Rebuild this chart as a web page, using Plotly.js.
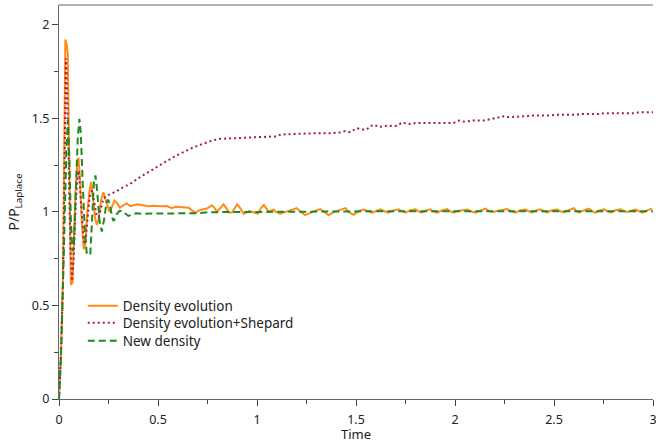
<!DOCTYPE html>
<html>
<head>
<meta charset="utf-8">
<script src="https://cdn.plot.ly/plotly-3.0.1.min.js"></script>
<style>
html,body{margin:0;padding:0;background:#fff;}
#chart{width:656px;height:443px;}
</style>
</head>
<body>
<div id="chart"></div>
<script>
// Density evolution (orange, solid)
const tDens = [0,0.01,0.02,0.026,0.032,0.038,0.044,0.05,0.055,0.06,0.068,0.075,0.083,0.092,0.098,0.105,0.115,0.125,0.132,0.143,0.155,0.163,0.172,0.183,0.192,0.2,0.212,0.224,0.24,0.255,0.265,0.28,0.295,0.308,0.325,0.342,0.36,0.38,0.395,0.425,0.45,0.48,0.51,0.545,0.57,0.59,0.612,0.635,0.655,0.675,0.69,0.713,0.73,0.748,0.772,0.786,0.798,0.815,0.831,0.845,0.858,0.875,0.9,0.915,0.932,0.962,0.985,1.005,1.02,1.035,1.058,1.083,1.095,1.117,1.16,1.2,1.22,1.243,1.28,1.32,1.345,1.362,1.385,1.404,1.425,1.446,1.468,1.488,1.515,1.539,1.56,1.581,1.603,1.623,1.645,1.665,1.69,1.715,1.73,1.749,1.775,1.8,1.815,1.834,1.855,1.876,1.89,1.909,1.935,1.96,1.975,1.994,2.015,2.036,2.061,2.08,2.103,2.13,2.154,2.175,2.196,2.213,2.23,2.263,2.285,2.305,2.33,2.356,2.372,2.39,2.41,2.432,2.45,2.466,2.49,2.516,2.533,2.55,2.575,2.601,2.614,2.626,2.65,2.676,2.693,2.71,2.73,2.752,2.77,2.786,2.81,2.836,2.853,2.87,2.89,2.912,2.93,2.946,2.97,2.996];
const vDens = [0,0.25,0.65,1.3,1.92,1.9,1.85,1.4,0.9,0.61,0.62,0.85,1.1,1.25,1.29,1.2,0.95,0.8,0.82,1.0,1.12,1.16,1.08,0.96,0.93,0.96,1.06,1.105,1.05,1.0,1.02,1.06,1.045,1.022,1.035,1.045,1.03,1.035,1.04,1.035,1.03,1.033,1.03,1.031,1.02,1.027,1.026,1.024,1.022,1.005,0.996,1.01,1.015,1.018,1.035,1.02,1.0,1.02,1.04,1.02,0.996,0.998,1.04,1.02,0.99,1.004,0.995,0.99,1.02,1.036,1.002,1.012,1.0,0.99,1.005,1.02,1.0,0.982,1.0,1.015,0.995,0.982,0.997,1.004,1.015,1.02,0.995,0.984,1.005,1.012,1.003,0.995,1.005,1.013,1.003,0.996,1.008,1.014,1.004,0.996,1.008,1.013,1.003,0.996,1.008,1.013,1.003,0.996,1.008,1.015,1.003,0.996,1.005,1.008,1.012,1.003,0.996,1.008,1.017,1.003,0.999,1.005,1.008,1.015,1.003,0.996,1.008,1.012,1.003,0.997,1.008,1.013,1.003,0.997,1.008,1.012,1.003,0.997,1.01,1.02,1.003,0.996,1.008,1.017,1.003,0.996,1.008,1.013,1.003,0.997,1.008,1.013,1.003,0.999,1.006,1.012,1.003,0.996,1.008,1.017];

// Density evolution + Shepard (purple, dotted)
const tShep = [0,0.01,0.02,0.027,0.035,0.042,0.05,0.058,0.066,0.074,0.085,0.093,0.1,0.108,0.118,0.126,0.133,0.143,0.155,0.167,0.178,0.19,0.2,0.212,0.224,0.24,0.266,0.29,0.325,0.36,0.41,0.45,0.494,0.535,0.578,0.62,0.662,0.705,0.747,0.78,0.814,0.86,0.915,0.96,1.008,1.05,1.1,1.12,1.2,1.303,1.37,1.42,1.446,1.47,1.505,1.53,1.555,1.572,1.593,1.615,1.64,1.665,1.69,1.71,1.732,1.76,1.778,1.8,1.876,1.926,1.993,2.019,2.044,2.095,2.145,2.187,2.213,2.238,2.263,2.364,2.38,2.482,2.507,2.608,2.634,2.726,2.752,2.904,2.929,3.0];
const vShep = [0,0.24,0.62,1.2,1.82,1.6,1.2,0.8,0.63,0.75,1.05,1.18,1.22,1.12,0.95,0.84,0.83,0.95,1.08,1.115,1.05,0.98,0.972,1.03,1.07,1.085,1.097,1.11,1.132,1.15,1.186,1.21,1.239,1.265,1.292,1.315,1.337,1.355,1.372,1.383,1.39,1.393,1.395,1.397,1.399,1.401,1.403,1.413,1.417,1.42,1.42,1.424,1.431,1.426,1.447,1.44,1.44,1.458,1.465,1.453,1.457,1.461,1.457,1.461,1.477,1.474,1.468,1.474,1.474,1.474,1.475,1.488,1.482,1.488,1.488,1.497,1.502,1.511,1.506,1.511,1.515,1.515,1.518,1.518,1.522,1.522,1.527,1.527,1.532,1.532];

// New density (green, dashed)
const tNew = [0,0.01,0.02,0.03,0.038,0.045,0.052,0.06,0.068,0.075,0.085,0.095,0.103,0.11,0.12,0.13,0.14,0.15,0.158,0.168,0.176,0.184,0.192,0.205,0.216,0.228,0.24,0.249,0.26,0.268,0.276,0.29,0.305,0.32,0.335,0.35,0.37,0.39,0.42,0.5,0.6,0.68,0.7,0.75,0.85,1.0,1.3,1.6,2.0,2.5,3.0];
const vNew = [0,0.22,0.6,1.05,1.35,1.49,1.3,0.95,0.79,0.82,1.1,1.4,1.497,1.42,1.15,0.9,0.78,0.77,0.77,0.98,1.15,1.195,1.12,0.95,0.895,0.96,1.05,1.065,1.02,0.97,0.95,0.985,1.005,1.005,0.99,0.978,0.985,0.992,0.99,0.99,0.99,0.99,0.993,0.998,0.999,1.0,1.002,1.003,1.003,1.003,1.003];

const seriesNames = ["Density evolution", "Density evolution+Shepard", "New density"];
const xTickVals = [0,0.5,1,1.5,2,2.5,3];
const xTickText = ["0","0.5","1","1.5","2","2.5","3"];
const yTickVals = [0,0.5,1,1.5,2];
const yTickText = ["0","0.5","1","1.5","2"];

const FONT = "Noto Sans, Open Sans, DejaVu Sans, sans-serif";

const traces = [
  {x: tDens, y: vDens, name: seriesNames[0], mode: "lines", legend: "legend",
   line: {color: "#ff8c1a", width: 2}},
  {x: tShep, y: vShep, name: seriesNames[1], mode: "lines", legend: "legend2",
   line: {color: "#a3195b", width: 2, dash: "2px,3px"}},
  {x: tNew, y: vNew, name: seriesNames[2], mode: "lines", legend: "legend3",
   line: {color: "#1f8a1f", width: 2, dash: "7px,4px"}}
];

const axisCommon = {
  showgrid: false, zeroline: false, showline: true,
  linecolor: "#666", linewidth: 1,
  ticks: "outside", ticklen: 6, tickcolor: "#444", tickwidth: 1,
  ticklabeloverflow: "allow",
  tickfont: {family: FONT, size: 12.5, color: "#222"}
};

function legendAt(yPaper) {
  return {x: 0.04, y: yPaper, xanchor: "left", yanchor: "top",
          bgcolor: "rgba(0,0,0,0)", borderwidth: 0,
          font: {family: FONT, size: 13.5, color: "#222"},
          itemwidth: 30};
}

const layout = {
  width: 656, height: 443,
  margin: {l: 59, r: 3, t: 5, b: 44},
  paper_bgcolor: "#fff", plot_bgcolor: "#fff",
  font: {family: FONT, size: 12, color: "#222"},
  showlegend: true,
  legend: legendAt(0.2754),
  legend2: legendAt(0.2322),
  legend3: legendAt(0.1865),
  xaxis: Object.assign({}, axisCommon, {
    range: [0, 3], mirror: false, automargin: false,
    tickvals: xTickVals, ticktext: xTickText,
    ticklabelstandoff: 3,
    minor: {dtick: 0.25, ticks: "outside", ticklen: 4, tickcolor: "#444", showgrid: false},
    title: {text: "Time", standoff: 2, font: {family: FONT, size: 13, color: "#222"}}
  }),
  yaxis: Object.assign({}, axisCommon, {
    range: [0, 2.105], mirror: false,
    tickvals: yTickVals, ticktext: yTickText,
    minor: {dtick: 0.25, ticks: "outside", ticklen: 4, tickcolor: "#444", showgrid: false},
    title: {text: "P/P<sub>Laplace</sub>", standoff: 8, font: {family: FONT, size: 14, color: "#222"}}
  }),
  shapes: [
    {type: "line", xref: "paper", yref: "paper", x0: 0, x1: 1, y0: 1, y1: 1,
     line: {color: "#666", width: 1}}
  ]
};

Plotly.newPlot("chart", traces, layout, {displayModeBar: false, staticPlot: true});
</script>
</body>
</html>
